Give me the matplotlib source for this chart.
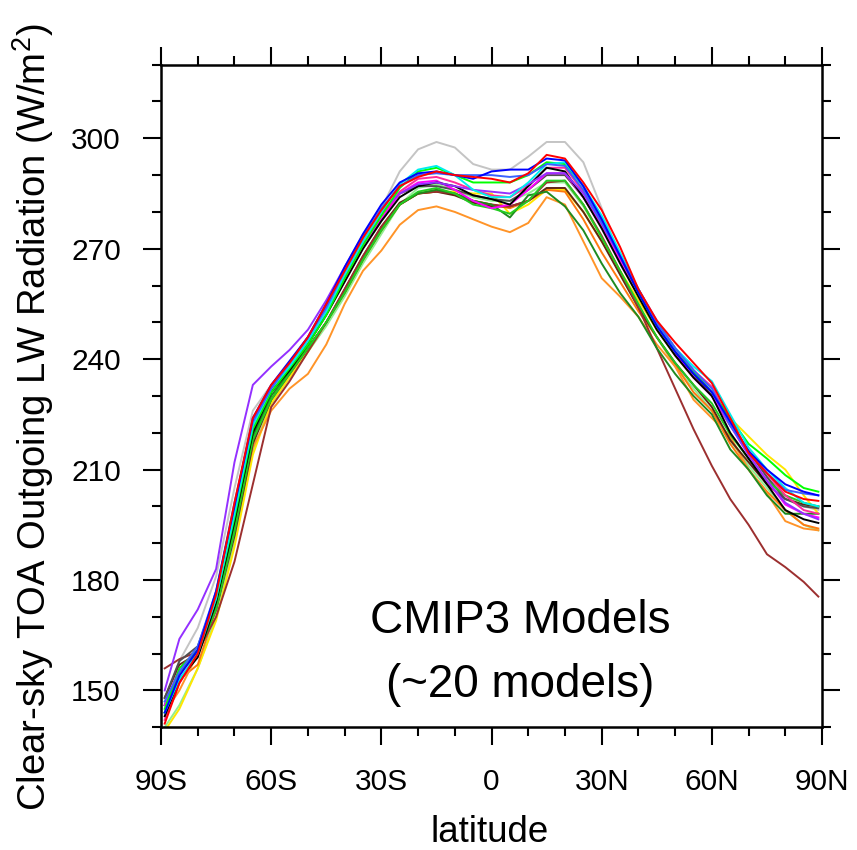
import matplotlib
matplotlib.use("Agg")
import matplotlib.pyplot as plt
from matplotlib.ticker import MultipleLocator

plt.rcParams['font.family'] = ['Liberation Sans', 'DejaVu Sans']
plt.rcParams['mathtext.fontset'] = 'custom'
plt.rcParams['mathtext.rm'] = 'Liberation Sans'
plt.rcParams['mathtext.it'] = 'Liberation Sans'

# ---------------- data ----------------
latitudes = [-89, -85, -80, -75, -70, -65, -60, -55, -50, -45, -40, -35, -30,
             -25, -20, -15, -10, -5, 0, 5, 10, 15, 20, 25, 30, 35, 40, 45,
             50, 55, 60, 65, 70, 75, 80, 85, 89]

model_gray = [147, 158, 167, 181, 205, 226, 233, 239, 246, 255, 265, 274, 281,
              291, 297, 299, 297.5, 293, 291.5, 291.5, 295, 299, 299, 293.5, 281, 267, 257, 249,
              241, 235, 230, 223, 215, 208, 203, 200, 199]
model_blue = [144, 154, 161, 177, 200, 224, 233, 239.5, 246, 255, 265, 274, 282,
              288, 290.5, 291, 290, 289, 291, 291.5, 291.5, 294.5, 294, 287, 278, 268, 258, 249,
              242, 236, 231, 223, 215, 210, 206, 204, 203]
model_red = [141, 152, 160, 176, 201, 224, 233, 239, 246, 255, 264, 273, 280.5,
             287, 289.5, 291, 290, 289.5, 289, 288, 290.5, 295.5, 294.5, 288, 280.5, 270.5, 259, 250.5,
             244.5, 239, 233.5, 224, 214.5, 209, 204, 202, 201.5]
model_cyan = [144, 153, 160, 175, 198, 222, 232, 238, 245, 253, 263, 272, 280,
              287.5, 291.5, 292.5, 290, 286, 284, 284, 288, 293, 293.5, 287, 279, 269, 259, 250,
              243, 238, 234, 225, 216, 210, 205, 201, 200]
model_lime = [145, 156, 161, 175, 197, 221, 231, 237.5, 244, 252, 262, 271, 279,
              286.5, 291, 292, 290, 288, 288, 288, 290, 293.5, 293, 287, 278, 268, 258, 249,
              242, 236.5, 231, 224, 217, 213, 208.5, 205, 204]
model_green = [144, 155, 160, 172, 193, 218, 229, 236, 243, 250, 258, 267, 275,
               282, 285.5, 286.5, 285, 282, 281, 279.5, 283, 288.5, 288.5, 282, 273, 264, 255, 246,
               239, 233, 228, 219.5, 213, 207, 203, 201, 200]
model_darkgreen = [146, 155, 160, 173, 195, 219, 230, 236.5, 243, 250, 258, 267, 275,
                   282, 285, 286, 285, 283, 282, 278.5, 284.5, 285.5, 281.5, 275, 266, 258, 251.5, 243,
                   236, 230, 225, 215.5, 210, 203, 198, 198, 198]
model_black = [143, 153, 159, 174, 196, 220, 231, 237, 244, 252, 261, 270, 277.5,
               284, 287, 288, 287, 284.5, 283.5, 282, 287, 292, 291, 284, 275.5, 266, 257, 248,
               241, 235, 230, 220, 213, 206, 199, 196.5, 195.5]
model_magenta = [146, 156, 161, 176, 199, 223, 232, 238, 245, 253, 262, 271, 278,
                 285, 288, 288.5, 286, 283, 281, 282, 286, 290.5, 290.5, 284, 276, 267, 258, 249,
                 241.5, 235, 230, 222, 214, 207, 200.5, 198, 197]
model_purple = [150, 164, 172, 183, 212, 233, 238, 242.5, 248, 256, 265, 273.5, 280,
                285, 287.5, 288, 287, 286, 285.5, 285, 287.5, 290.5, 290.5, 285, 277, 268, 259, 250.5,
                243, 237, 231, 222, 214, 207, 201, 198, 196.5]
model_brown = [156, 158.5, 160.5, 170, 185, 206, 227, 234, 242, 250, 259, 268, 276,
               282, 285, 285.5, 285, 283, 282, 281.5, 283, 288, 288.5, 282, 273.5, 264, 254, 243,
               232, 221, 211, 202, 195, 187, 183.5, 179.5, 175.5]
model_maroon = [148, 157, 160, 172, 192, 217, 229, 236, 243, 250, 259, 268, 276,
                282.5, 285, 285.5, 284.5, 282.5, 281.5, 281.5, 283, 286.5, 286.5, 280, 272, 263, 254, 246,
                239, 233, 227, 218, 212, 206, 202, 200.5, 200]
model_orange = [144, 150, 160, 172, 194, 216, 226, 232, 236, 244, 255, 264, 269.5,
                276.5, 280.5, 281.5, 280, 278, 276, 274.5, 277, 284, 282, 272, 262, 257, 251.5, 244,
                238, 229, 224, 219, 210, 203.5, 196, 194, 193.5]
model_orange2 = [146, 153, 157, 172, 194, 218, 229, 236, 243, 250, 258, 267, 275,
                 282, 285, 286, 285, 283, 282, 281, 283, 286, 285.5, 278, 269, 261, 253, 246,
                 238.5, 231, 226, 217, 210, 204, 199, 195, 194]
model_yellow = [139, 145, 156, 169, 189, 214, 228, 235, 242, 250, 258, 267, 275,
                282, 285, 285.5, 285.5, 285, 285, 279.5, 282, 286, 286, 280, 272, 264, 256, 248,
                241, 235, 231, 224, 219, 214, 210, 203, 198]
model_lightgreen = [140, 146, 156, 170, 190, 215, 228, 235, 242, 249, 257, 266, 274,
                    282, 286.5, 287.5, 286, 284, 283, 283, 285, 288, 288, 281.5, 273, 263, 254, 246,
                    238, 232, 226, 218, 211, 205, 199, 195, 193.5]
model_darkgray = [148, 158, 162, 176, 198, 221, 231, 238, 245, 253, 262, 271, 279,
                  285, 287, 287, 286, 284.5, 283.5, 283, 286, 290, 290, 284, 276, 267, 258, 249,
                  242, 236, 230, 222, 215, 208, 202, 200, 199.5]
model_pink = [142, 152, 160, 175, 198, 222, 232, 238.5, 245.5, 254, 263, 272, 279,
              285.5, 289, 289.5, 288, 286, 284.5, 284, 287, 292, 292, 285.5, 277, 268, 259, 250,
              243, 237, 232.5, 223, 215, 209, 203, 199, 198]
model_royalblue = [147, 155, 162, 177, 201, 223, 232, 239, 246, 254, 264, 273, 281,
                   287, 290, 290.5, 290, 290, 290, 289.5, 290, 293, 292.5, 286, 277, 268, 259, 250,
                   243, 237, 232, 222, 215, 209, 204.5, 203.5, 203]

x_tick_values = [-90, -60, -30, 0, 30, 60, 90]
x_tick_labels = ["90S", "60S", "30S", "0", "30N", "60N", "90N"]
y_tick_values = [150, 180, 210, 240, 270, 300]
y_tick_labels = ["150", "180", "210", "240", "270", "300"]

series = [
    (model_gray, "#c4c4c4"),
    (model_lightgreen, "#90ee90"),
    (model_yellow, "#ffe600"),
    (model_orange2, "#ff7a10"),
    (model_orange, "#ff9428"),
    (model_maroon, "#5e2612"),
    (model_brown, "#9c2f2f"),
    (model_darkgray, "#505050"),
    (model_darkgreen, "#1f8a1f"),
    (model_green, "#22cc22"),
    (model_magenta, "#ff00ff"),
    (model_pink, "#ff2a9a"),
    (model_black, "#000000"),
    (model_purple, "#9430ff"),
    (model_lime, "#00ff00"),
    (model_cyan, "#00eeee"),
    (model_royalblue, "#3a62ff"),
    (model_blue, "#0000ff"),
    (model_red, "#ff0000"),
]

# ---------------- figure ----------------
fig = plt.figure(figsize=(8.57, 8.50), dpi=100)
ax = fig.add_axes([0.1879, 0.1444, 0.7713, 0.7795])

for vals, col in series:
    ax.plot(latitudes, vals, color=col, lw=1.4, solid_joinstyle='round')

ax.set_xlim(-90, 90)
ax.set_ylim(140, 320)

ax.set_xticks(x_tick_values)
ax.set_xticklabels(x_tick_labels)
ax.set_yticks(y_tick_values)
ax.set_yticklabels(y_tick_labels)
ax.xaxis.set_minor_locator(MultipleLocator(10))
ax.yaxis.set_minor_locator(MultipleLocator(10))

ax.tick_params(which='both', direction='out', top=True, right=True,
               labelsize=21.5, width=1.5, color='black')
ax.tick_params(which='major', length=13, pad=16)
ax.tick_params(which='minor', length=6.5)

for sp in ax.spines.values():
    sp.set_linewidth(1.8)

fig.text(33.5 / 857, 1 - 417 / 850,
         r'Clear-sky TOA Outgoing LW Radiation (W/m$^2$)',
         rotation=90, ha='center', va='center', fontsize=27.5)
fig.text(490 / 857, 1 - 842 / 850, 'latitude', ha='center', va='baseline',
         fontsize=26.5)

ax.text(0.543, 0.142, 'CMIP3 Models', transform=ax.transAxes,
        ha='center', va='baseline', fontsize=33)
ax.text(0.543, 0.045, '(~20 models)', transform=ax.transAxes,
        ha='center', va='baseline', fontsize=33)

fig.savefig('out.png', dpi=100)
